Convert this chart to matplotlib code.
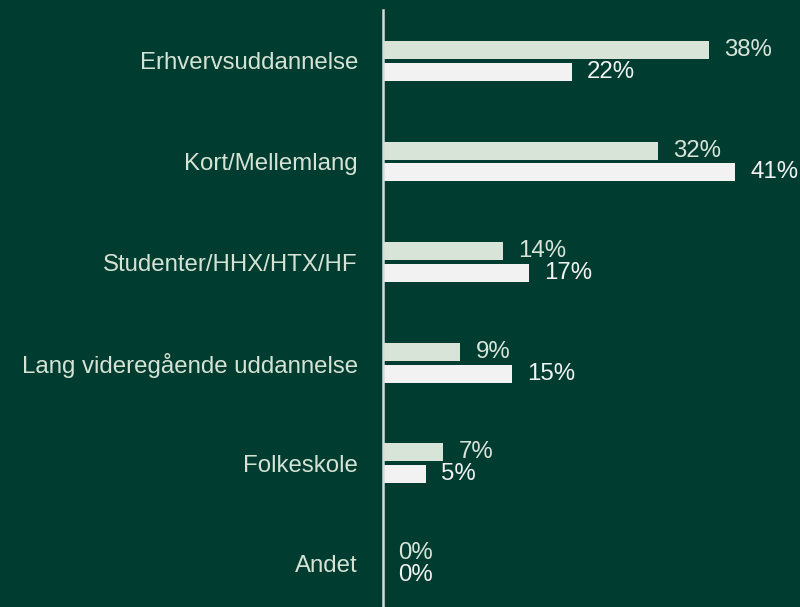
import matplotlib
matplotlib.use("Agg")
import matplotlib.pyplot as plt
import numpy as np

categories = ["Erhvervsuddannelse", "Kort/Mellemlang", "Studenter/HHX/HTX/HF",
              "Lang videregående uddannelse", "Folkeskole", "Andet"]
series_a = [38, 32, 14, 9, 7, 0]
series_b = [22, 41, 17, 15, 5, 0]

BG = "#003d30"
COL_A = "#d9e4d9"
COL_B = "#f2f2f2"
TXT = "#d5e3d5"

plt.rcParams["font.family"] = ["Liberation Sans", "DejaVu Sans"]

fig = plt.figure(figsize=(8.0, 6.07), dpi=100, facecolor=BG)
ax = fig.add_axes([383 / 800, 0, 1 - 383 / 800, 1 - 10 / 607])
ax.set_facecolor(BG)

y = np.arange(len(categories))
off = 0.109
h = 0.179
ax.barh(y - off, series_a, height=h, color=COL_A, edgecolor="none")
ax.barh(y + off, series_b, height=h, color=COL_B, edgecolor="none")

ax.set_xlim(0, 417 / 8.58)
ax.set_ylim(5.43, -0.507)

fs = 17.3
for i, (a, b) in enumerate(zip(series_a, series_b)):
    ax.annotate(f"{a}%", (a, i - off), xytext=(11, 0), textcoords="offset points",
                va="center", ha="left", color=COL_A, fontsize=fs)
    ax.annotate(f"{b}%", (b, i + off), xytext=(11, 0), textcoords="offset points",
                va="center", ha="left", color=COL_B, fontsize=fs)

ax.set_yticks(y)
ax.set_yticklabels(categories, color=TXT, fontsize=fs)
ax.tick_params(axis="y", length=0, pad=18)
ax.set_xticks([])
for s in ["top", "right", "bottom"]:
    ax.spines[s].set_visible(False)
ax.spines["left"].set_color("#d9d9d9")
ax.spines["left"].set_linewidth(1.8)

fig.savefig("out.png", dpi=100, facecolor=BG)
